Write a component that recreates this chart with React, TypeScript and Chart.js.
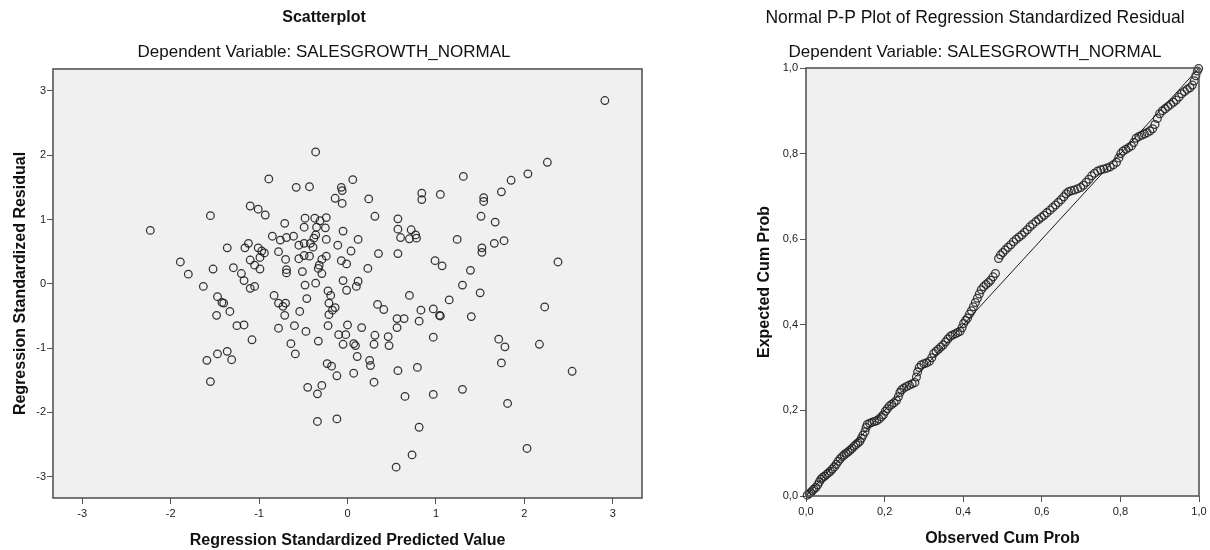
import React, { useEffect, useRef } from 'react';
import { Chart, registerables } from 'chart.js';

Chart.register(...registerables);

// ---------- Scatterplot data (Regression Standardized Predicted Value vs Residual) ----------
const residPredicted = [
  -0.36, -0.89, -0.58, -0.43, 0.06, -0.07, -0.06, -0.14, -0.06, -1.55,
  -1.10, -1.01, -0.93, -2.23, -0.71, -0.48, -0.37, -0.31, -0.24, -0.49,
  -0.35, -0.25, -0.05, 0.12, -0.85, -0.76, -0.69, -0.61, -0.36, -0.38,
  -0.24, -0.11, -0.55, -0.49, -0.42, -0.39, 0.04, -1.12, -1.16, -1.01,
  -1.36, -0.97, -0.94, -0.78, -0.70, -0.55, -0.49, -0.43, -0.24, -0.29,
  -0.07, -0.01, -1.10, -0.99, -1.05, -0.99, -1.89, -1.80, -1.52, -1.29,
  -1.20, -0.32, -0.33, -0.29, -0.69, -0.69, -0.51, -0.36, -0.48, -0.05,
  -0.01, 0.10, 0.12, -1.17, -1.63, -1.10, -1.05, -0.83, -0.46, -0.22,
  -0.19, -1.47, -1.42, -1.40, -1.33, -1.48, -1.25, -1.17, -1.08, -0.78,
  -0.73, -0.70, -0.71, -0.54, -0.78, -0.60, -0.47, -0.64, -0.59, -0.33,
  -0.21, -0.17, -0.14, -0.21, -0.22, -0.10, -0.02, 0.00, -0.05, 0.07,
  0.09, 0.11, 0.07, 0.16, -1.59, -1.47, -1.36, -1.31, -1.55, -0.23,
  -0.18, -0.12, -0.45, -0.29, -0.34, -0.34, -0.12, 2.91, 2.26, 2.04,
  1.85, 1.74, 1.31, 0.24, 0.84, 0.84, 1.05, 1.54, 1.54, 0.31,
  0.57, 1.51, 1.67, 0.57, 0.72, 0.60, 0.70, 0.77, 0.78, 1.24,
  1.66, 1.77, 1.52, 1.52, 0.35, 0.57, 2.38, 0.23, 0.99, 1.07,
  1.39, 1.30, 1.50, 0.70, 1.15, 0.34, 0.41, 0.83, 0.97, 1.04,
  1.05, 1.40, 2.23, 0.56, 0.64, 0.81, 0.56, 0.31, 0.46, 0.30,
  0.47, 0.97, 0.25, 0.26, 0.57, 0.79, 0.30, 1.71, 1.78, 2.17,
  1.74, 2.54, 1.30, 0.65, 0.97, 1.81, 0.81, 2.03, 0.73, 0.55,
];
const residValues = [
  2.05, 1.63, 1.50, 1.51, 1.62, 1.50, 1.45, 1.33, 1.25, 1.06,
  1.21, 1.16, 1.07, 0.83, 0.94, 1.02, 1.02, 0.98, 1.03, 0.88,
  0.88, 0.87, 0.82, 0.69, 0.74, 0.68, 0.72, 0.74, 0.76, 0.71,
  0.69, 0.60, 0.60, 0.63, 0.63, 0.57, 0.51, 0.63, 0.56, 0.56,
  0.56, 0.51, 0.48, 0.50, 0.38, 0.39, 0.44, 0.43, 0.43, 0.38,
  0.36, 0.31, 0.37, 0.41, 0.29, 0.23, 0.34, 0.15, 0.23, 0.25,
  0.16, 0.29, 0.24, 0.16, 0.22, 0.17, 0.19, 0.01, -0.02, 0.05,
  -0.10, -0.04, 0.04, 0.05, -0.04, -0.07, -0.04, -0.18, -0.23, -0.11,
  -0.18, -0.20, -0.29, -0.30, -0.43, -0.49, -0.65, -0.64, -0.87, -0.30,
  -0.35, -0.30, -0.49, -0.43, -0.69, -0.65, -0.74, -0.93, -1.09, -0.89,
  -0.30, -0.41, -0.37, -0.48, -0.65, -0.79, -0.79, -0.64, -0.94, -0.93,
  -0.96, -1.13, -1.39, -0.68, -1.19, -1.09, -1.05, -1.18, -1.52, -1.24,
  -1.28, -1.43, -1.61, -1.58, -1.71, -2.14, -2.10, 2.85, 1.89, 1.71,
  1.61, 1.43, 1.67, 1.32, 1.41, 1.31, 1.39, 1.34, 1.28, 1.05,
  1.01, 1.05, 0.96, 0.85, 0.84, 0.72, 0.70, 0.76, 0.71, 0.69,
  0.63, 0.67, 0.56, 0.49, 0.47, 0.47, 0.34, 0.24, 0.36, 0.28,
  0.21, -0.02, -0.14, -0.18, -0.25, -0.32, -0.40, -0.41, -0.39, -0.49,
  -0.50, -0.51, -0.36, -0.54, -0.54, -0.58, -0.68, -0.80, -0.82, -0.94,
  -0.96, -0.83, -1.19, -1.27, -1.35, -1.30, -1.53, -0.86, -0.98, -0.94,
  -1.23, -1.36, -1.64, -1.75, -1.72, -1.86, -2.23, -2.56, -2.66, -2.85,
];
const scatterTicks = [-3, -2, -1, 0, 1, 2, 3];

// ---------- Normal P-P plot data ----------
const ppObserved = [
  0.003, 0.008, 0.012, 0.016, 0.020, 0.025, 0.030, 0.034, 0.038, 0.042,
  0.047, 0.052, 0.057, 0.062, 0.067, 0.072, 0.077, 0.082, 0.087, 0.092,
  0.097, 0.102, 0.107, 0.112, 0.117, 0.122, 0.127, 0.132, 0.137, 0.141,
  0.145, 0.150, 0.153, 0.156, 0.162, 0.168, 0.174, 0.180, 0.186, 0.192,
  0.197, 0.202, 0.207, 0.212, 0.218, 0.224, 0.230, 0.235, 0.239, 0.243,
  0.249, 0.256, 0.263, 0.270, 0.277, 0.281, 0.284, 0.288, 0.293, 0.300,
  0.307, 0.314, 0.320, 0.325, 0.331, 0.337, 0.343, 0.349, 0.355, 0.361,
  0.367, 0.373, 0.380, 0.386, 0.392, 0.397, 0.401, 0.406, 0.411, 0.416,
  0.421, 0.426, 0.431, 0.436, 0.441, 0.446, 0.452, 0.458, 0.464, 0.470,
  0.476, 0.482, 0.490, 0.495, 0.501, 0.507, 0.514, 0.521, 0.528, 0.535,
  0.542, 0.549, 0.556, 0.563, 0.570, 0.577, 0.585, 0.592, 0.599, 0.606,
  0.613, 0.621, 0.628, 0.635, 0.642, 0.649, 0.656, 0.662, 0.668, 0.675,
  0.683, 0.691, 0.699, 0.706, 0.713, 0.720, 0.727, 0.734, 0.742, 0.750,
  0.758, 0.766, 0.774, 0.782, 0.790, 0.796, 0.801, 0.807, 0.814, 0.821,
  0.828, 0.834, 0.840, 0.847, 0.854, 0.861, 0.868, 0.875, 0.882, 0.888,
  0.894, 0.900, 0.907, 0.914, 0.921, 0.928, 0.935, 0.942, 0.949, 0.956,
  0.963, 0.970, 0.977, 0.983, 0.988, 0.992, 0.996, 0.999,
];
const ppExpected = [
  0.002, 0.005, 0.008, 0.012, 0.016, 0.020, 0.026, 0.033, 0.039, 0.043,
  0.046, 0.050, 0.054, 0.058, 0.063, 0.068, 0.074, 0.081, 0.087, 0.092,
  0.096, 0.100, 0.103, 0.107, 0.111, 0.116, 0.120, 0.124, 0.128, 0.135,
  0.142, 0.150, 0.160, 0.167, 0.170, 0.172, 0.174, 0.176, 0.180, 0.185,
  0.190, 0.198, 0.204, 0.210, 0.214, 0.218, 0.223, 0.232, 0.242, 0.248,
  0.252, 0.256, 0.259, 0.262, 0.265, 0.278, 0.290, 0.300, 0.306, 0.309,
  0.311, 0.315, 0.323, 0.333, 0.338, 0.343, 0.348, 0.353, 0.360, 0.367,
  0.373, 0.376, 0.379, 0.382, 0.385, 0.393, 0.403, 0.410, 0.416, 0.425,
  0.433, 0.442, 0.452, 0.462, 0.472, 0.482, 0.489, 0.494, 0.499, 0.504,
  0.512, 0.520, 0.555, 0.563, 0.569, 0.575, 0.581, 0.587, 0.594, 0.600,
  0.605, 0.610, 0.616, 0.622, 0.629, 0.635, 0.641, 0.646, 0.651, 0.656,
  0.662, 0.668, 0.674, 0.680, 0.686, 0.692, 0.699, 0.706, 0.711, 0.713,
  0.715, 0.718, 0.721, 0.726, 0.733, 0.740, 0.748, 0.754, 0.759, 0.762,
  0.764, 0.766, 0.769, 0.774, 0.780, 0.790, 0.800, 0.806, 0.810, 0.814,
  0.818, 0.826, 0.836, 0.840, 0.843, 0.846, 0.849, 0.853, 0.858, 0.868,
  0.882, 0.893, 0.900, 0.905, 0.910, 0.915, 0.920, 0.925, 0.932, 0.940,
  0.945, 0.950, 0.954, 0.960, 0.970, 0.982, 0.993, 0.999,
];
const refLineX = [0, 1];
const refLineY = [0, 1];
const ppTicks = [0, 0.2, 0.4, 0.6, 0.8, 1];
const ppTickLabels = ['0,0', '0,2', '0,4', '0,6', '0,8', '1,0'];

const FONT = "'Liberation Sans', Arial, Helvetica, sans-serif";
const TEXT = '#111';
const AXIS = '#555';

const framePlugin = {
  id: 'plotFrame',
  beforeDatasetsDraw(chart: any) {
    const { ctx, chartArea: a } = chart;
    ctx.save();
    ctx.fillStyle = '#f0f0f0';
    ctx.fillRect(a.left, a.top, a.right - a.left, a.bottom - a.top);
    ctx.restore();
  },
  afterDatasetsDraw(chart: any) {
    const { ctx, chartArea: a } = chart;
    ctx.save();
    ctx.strokeStyle = '#555';
    ctx.lineWidth = 1.6;
    ctx.strokeRect(a.left, a.top, a.right - a.left, a.bottom - a.top);
    ctx.restore();
  },
};

function axis(opts: {
  min: number; max: number; ticks: number[]; labels?: string[];
  size: number; horizontal: boolean; title: string; titlePad: any; tickPad: number;
}) {
  return {
    type: 'linear',
    min: opts.min,
    max: opts.max,
    afterBuildTicks: (s: any) => { s.ticks = opts.ticks.map((v) => ({ value: v })); },
    afterFit: (s: any) => { if (opts.horizontal) s.height = opts.size; else s.width = opts.size; },
    grid: { drawOnChartArea: false, drawTicks: true, tickLength: 6, color: AXIS, tickColor: AXIS, lineWidth: 1 },
    border: { display: false },
    ticks: {
      color: '#222',
      font: { family: FONT, size: 11 },
      padding: opts.tickPad,
      maxRotation: 0,
      autoSkip: false,
      ...(opts.labels ? { callback: (_v: any, i: number) => opts.labels![i] } : {}),
    },
    title: {
      display: true,
      text: opts.title,
      color: TEXT,
      font: { family: FONT, size: 16, weight: 'bold' },
      padding: opts.titlePad,
    },
  };
}

export default function App() {
  const leftRef = useRef<HTMLCanvasElement>(null);
  const rightRef = useRef<HTMLCanvasElement>(null);

  useEffect(() => {
    Chart.defaults.font.family = FONT;
    const scatter = new Chart(leftRef.current!, {
      type: 'scatter',
      data: {
        datasets: [
          {
            data: residPredicted.map((x, i) => ({ x, y: residValues[i] })),
            pointStyle: 'circle',
            pointRadius: 3.8,
            pointBorderWidth: 1.25,
            pointBorderColor: 'rgba(30,30,30,0.9)',
            pointBackgroundColor: 'rgba(0,0,0,0)',
            clip: false,
          } as any,
        ],
      },
      options: {
        responsive: false,
        animation: false,
        events: [],
        layout: { padding: { left: 0, right: 8, top: 0, bottom: 0 } },
        plugins: {
          legend: { display: false },
          tooltip: { enabled: false },
          title: {
            display: true,
            text: 'Scatterplot',
            color: TEXT,
            font: { family: FONT, size: 16, weight: 'bold' },
            padding: { top: 8, bottom: 14.6 },
          },
          subtitle: {
            display: true,
            text: 'Dependent Variable: SALESGROWTH_NORMAL',
            color: TEXT,
            font: { family: FONT, size: 17 },
            padding: { top: 0, bottom: 6.8 },
          },
        },
        scales: {
          x: axis({ min: -3.33, max: 3.33, ticks: scatterTicks, size: 52, horizontal: true,
            title: 'Regression Standardized Predicted Value', titlePad: { top: 0, bottom: 0 }, tickPad: 3 }),
          y: axis({ min: -3.33, max: 3.34, ticks: scatterTicks, size: 47, horizontal: false,
            title: 'Regression Standardized Residual', titlePad: { top: 5, bottom: 0 }, tickPad: 1 }),
        } as any,
      },
      plugins: [framePlugin],
    } as any);

    const pp = new Chart(rightRef.current!, {
      type: 'scatter',
      data: {
        datasets: [
          {
            data: refLineX.map((x, i) => ({ x, y: refLineY[i] })),
            showLine: true,
            borderColor: '#1a1a1a',
            borderWidth: 1,
            pointRadius: 0,
            order: 0,
          } as any,
          {
            data: ppObserved.map((x, i) => ({ x, y: ppExpected[i] })),
            pointStyle: 'circle',
            pointRadius: 3.9,
            pointBorderWidth: 1.3,
            pointBorderColor: 'rgba(30,30,30,0.85)',
            pointBackgroundColor: 'rgba(0,0,0,0)',
            clip: false,
            order: 1,
          } as any,
        ],
      },
      options: {
        responsive: false,
        animation: false,
        events: [],
        layout: { padding: { left: 0, right: 11, top: 0, bottom: 0 } },
        plugins: {
          legend: { display: false },
          tooltip: { enabled: false },
          title: {
            display: true,
            text: 'Normal P-P Plot of Regression Standardized Residual',
            color: TEXT,
            font: { family: FONT, size: 17.5, weight: 'normal' },
            padding: { top: 7.5, bottom: 13.3 },
          },
          subtitle: {
            display: true,
            text: 'Dependent Variable: SALESGROWTH_NORMAL',
            color: TEXT,
            font: { family: FONT, size: 17 },
            padding: { top: 0, bottom: 5.8 },
          },
        },
        scales: {
          x: axis({ min: 0, max: 1, ticks: ppTicks, labels: ppTickLabels, size: 54, horizontal: true,
            title: 'Observed Cum Prob', titlePad: { top: 0, bottom: 2 }, tickPad: 3 }),
          y: axis({ min: 0, max: 1, ticks: ppTicks, labels: ppTickLabels, size: 55, horizontal: false,
            title: 'Expected Cum Prob', titlePad: { top: 4.4, bottom: 0 }, tickPad: 2 }),
        } as any,
      },
      plugins: [framePlugin],
    } as any);

    return () => {
      scatter.destroy();
      pp.destroy();
    };
  }, []);

  return (
    <div style={{ position: 'absolute', left: 0, top: 0, width: 1210, height: 550, background: '#fff', overflow: 'hidden' }}>
      <canvas ref={leftRef} width={644} height={550}
        style={{ position: 'absolute', left: 6, top: 0, width: 644, height: 550 }} />
      <canvas ref={rightRef} width={459} height={550}
        style={{ position: 'absolute', left: 751, top: 0, width: 459, height: 550 }} />
    </div>
  );
}
